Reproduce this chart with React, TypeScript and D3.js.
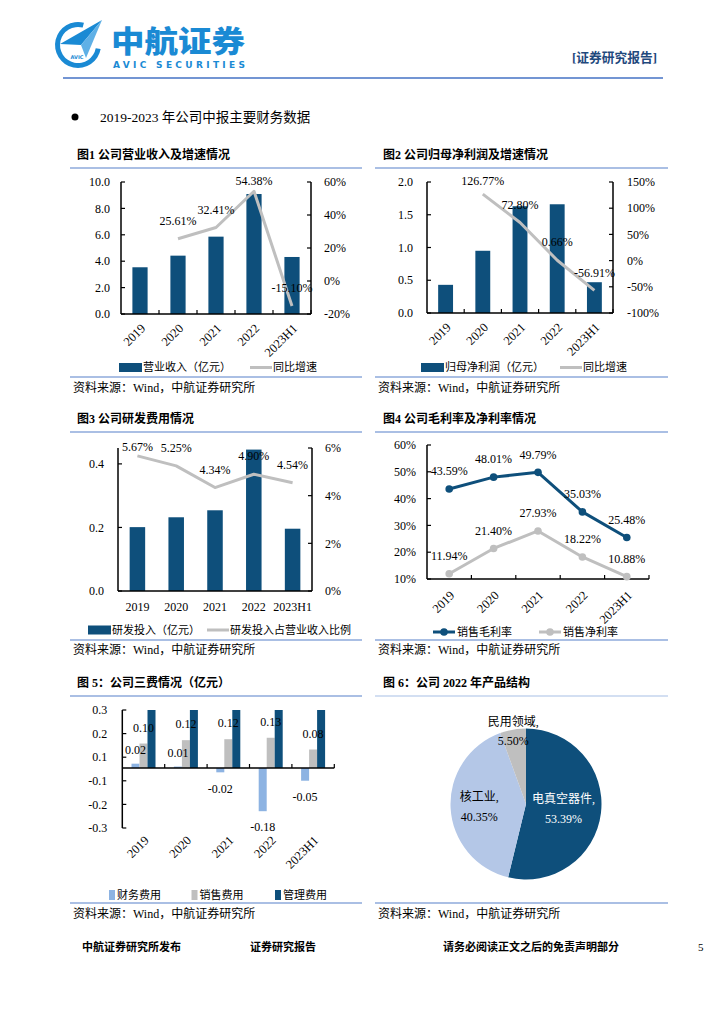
import React from 'react';
import * as d3 from 'd3';

// ---------------- DATA ----------------
const years = ['2019', '2020', '2021', '2022', '2023H1'];

const revenue = [3.54, 4.42, 5.86, 9.09, 4.32];
const revenueGrowth: (number | null)[] = [null, 25.61, 32.41, 54.38, -15.1];
const revenueTicks = [0, 2, 4, 6, 8, 10];
const revenueGrowthTicks = [-20, 0, 20, 40, 60];

const profit = [0.43, 0.95, 1.63, 1.66, 0.47];
const profitGrowth: (number | null)[] = [null, 126.77, 72.8, 0.66, -56.91];
const profitTicks = [0, 0.5, 1, 1.5, 2];
const profitGrowthTicks = [-100, -50, 0, 50, 100, 150];

const rdSpend = [0.201, 0.232, 0.254, 0.445, 0.196];
const rdRatio: (number | null)[] = [5.67, 5.25, 4.34, 4.9, 4.54];
const rdTicks = [0, 0.2, 0.4];
const rdRatioTicks = [0, 2, 4, 6];

const grossMargin = [43.59, 48.01, 49.79, 35.03, 25.48];
const netMargin = [11.94, 21.4, 27.93, 18.22, 10.88];
const marginTicks = [10, 20, 30, 40, 50, 60];

const financeExp = [0.018, 0.006, -0.018, -0.18, -0.053];
const salesExp = [0.102, 0.116, 0.12, 0.126, 0.077];
const adminExp = [0.34, 0.38, 0.45, 0.52, 0.3];
const expTickLabels = ['0.3', '0.2', '0.1', '-0.1', '-0.2', '-0.3'];
const expSeries = ['财务费用', '销售费用', '管理费用'];

const pieNames = ['电真空器件', '核工业', '民用领域'];
const pieValues = [53.39, 40.35, 5.5];

// ---------------- STYLE ----------------
const FONT = "'Liberation Serif','Noto Sans CJK SC',serif";
const DARK = '#0e4f7b';
const GRAY = '#bfbfbf';
const LIGHT = '#8db3e2';
const PIE_LIGHT = '#b4c7e7';
const RULE = '#8eaadb';
const BRAND = '#1a8ad4';

const SOURCE = '资料来源：Wind，中航证券研究所';

function Frame({ x0, x1, tx, titleY, topLine, bottomLine, sourceY, title, ruleColor = RULE }: any) {
  return (
    <g>
      <text x={tx} y={titleY} fontSize={12} fontWeight={700} dy="0.35em">{title}</text>
      <line x1={x0} x2={x1} y1={topLine} y2={topLine} stroke={ruleColor} strokeWidth={1.5} />
      <line x1={x0} x2={x1} y1={bottomLine} y2={bottomLine} stroke={RULE} strokeWidth={1.5} />
      <text x={x0 + 3} y={sourceY} fontSize={12} dy="0.35em">{SOURCE}</text>
    </g>
  );
}

function LeftAxis({ x, y, ticks, fmt, gap, yTop, yBot, positions }: any) {
  return (
    <g>
      <line x1={x} x2={x} y1={yTop} y2={yBot} stroke="#000" strokeWidth={1.5} />
      {ticks.map((t: any, i: number) => {
        const yy = positions ? positions[i] : y(t);
        return (
          <g key={i}>
            <line x1={x} x2={x + 4} y1={yy} y2={yy} stroke="#000" strokeWidth={1.2} />
            <text x={x - gap} y={yy} dy="0.35em" textAnchor="end" fontSize={12}>{fmt(t)}</text>
          </g>
        );
      })}
    </g>
  );
}

function RightAxis({ x, y, ticks, fmt, gap, yTop, yBot }: any) {
  return (
    <g>
      <line x1={x} x2={x} y1={yTop} y2={yBot} stroke="#000" strokeWidth={1.5} />
      {ticks.map((t: number, i: number) => (
        <g key={i}>
          <line x1={x - 4} x2={x} y1={y(t)} y2={y(t)} stroke="#000" strokeWidth={1.2} />
          <text x={x + gap} y={y(t)} dy="0.35em" textAnchor="start" fontSize={12}>{fmt(t)}</text>
        </g>
      ))}
    </g>
  );
}

function XAxis({ x0, x1, y, step, n, ticks = true }: any) {
  return (
    <g>
      <line x1={x0} x2={x1} y1={y} y2={y} stroke="#000" strokeWidth={1.5} />
      {ticks && d3.range(1, n + 1).map((k) => (
        <line key={k} x1={x0 + step * k} x2={x0 + step * k} y1={y} y2={y - 4} stroke="#000" strokeWidth={1.2} />
      ))}
    </g>
  );
}

function XLabels({ centers, y, rotate }: any) {
  return (
    <g>
      {years.map((yr, i) =>
        rotate ? (
          <text key={yr} transform={`translate(${centers[i] + 3},${y}) rotate(-45)`} textAnchor="end" dy="0.35em" fontSize={12.5}>{yr}</text>
        ) : (
          <text key={yr} x={centers[i]} y={y} textAnchor="middle" dy="0.35em" fontSize={12}>{yr}</text>
        )
      )}
    </g>
  );
}

function BarLine(p: any) {
  const { x0, x1, yTop, yBot } = p;
  const xb = d3.scaleBand<string>().domain(years).range([x0, x1]).paddingInner(0.6).paddingOuter(0.3);
  const step = xb.step();
  const centers = years.map((y) => (xb(y) as number) + xb.bandwidth() / 2);
  const yL = d3.scaleLinear().domain(p.lDomain).range([yBot, yTop]);
  const yR = d3.scaleLinear().domain(p.rDomain).range([yBot, yTop]);
  const pts: [number, number][] = [];
  p.line.forEach((v: number | null, i: number) => { if (v != null) pts.push([centers[i], yR(v)]); });
  const path = d3.line()(pts) || '';
  const clipId = p.id + '-clip';
  return (
    <g>
      <clipPath id={clipId}><rect x={x0} y={yTop} width={x1 - x0} height={yBot - yTop} /></clipPath>
      <g clipPath={`url(#${clipId})`}>
        {p.bars.map((v: number, i: number) => (
          <rect key={i} x={xb(years[i])} y={yL(v)} width={xb.bandwidth()} height={yBot - yL(v)} fill={DARK} />
        ))}
      </g>
      <path d={path} fill="none" stroke={GRAY} strokeWidth={3} strokeLinejoin="round" />
      <XAxis x0={x0} x1={x1} y={yBot} step={step} n={5} ticks={p.xTicks} />
      <LeftAxis x={x0} y={yL} ticks={p.lTicks} fmt={p.lFmt} gap={p.lGap} yTop={yTop} yBot={yBot} />
      <RightAxis x={x1} y={yR} ticks={p.rTicks} fmt={p.rFmt} gap={p.rGap} yTop={yTop} yBot={yBot} />
      {p.line.map((v: number | null, i: number) => v == null ? null : (
        <text key={i} x={centers[i]} y={Math.max(yR(v) - 18, yTop - 1)} dy="0.35em" textAnchor="middle" fontSize={12}>{v.toFixed(2)}%</text>
      ))}
      <XLabels centers={centers} y={p.rotate ? yBot + 12 : p.xLabelY} rotate={p.rotate} />
      <rect x={p.legend.barX} y={p.legend.y - 4.5} width={23} height={9} fill={DARK} />
      <text x={p.legend.barX + 24} y={p.legend.y} dy="0.35em" fontSize={11}>{p.legend.barText}</text>
      <line x1={p.legend.lineX} x2={p.legend.lineX + 22} y1={p.legend.y} y2={p.legend.y} stroke={GRAY} strokeWidth={3} />
      <text x={p.legend.lineX + 23} y={p.legend.y} dy="0.35em" fontSize={11}>{p.legend.lineText}</text>
    </g>
  );
}

function Chart4() {
  const x0 = 427, x1 = 649, yTop = 445, yBot = 579;
  const xb = d3.scaleBand<string>().domain(years).range([x0, x1]);
  const centers = years.map((y) => (xb(y) as number) + xb.bandwidth() / 2);
  const y = d3.scaleLinear().domain([10, 60]).range([yBot, yTop]);
  const series = [
    { vals: grossMargin, color: DARK, name: '销售毛利率', lx: 433 },
    { vals: netMargin, color: GRAY, name: '销售净利率', lx: 539 },
  ];
  const gen = d3.line<number>().x((_, i) => centers[i]).y((v) => y(v));
  return (
    <g>
      <XAxis x0={x0} x1={x1} y={yBot} step={xb.step()} n={5} />
      <LeftAxis x={x0} y={y} ticks={marginTicks} fmt={(t: number) => t + '%'} gap={11} yTop={yTop} yBot={yBot} />
      {series.map((s) => (
        <g key={s.name}>
          <path d={gen(s.vals) || ''} fill="none" stroke={s.color} strokeWidth={3} strokeLinejoin="round" />
          {s.vals.map((v, i) => <circle key={i} cx={centers[i]} cy={y(v)} r={3.8} fill={s.color} />)}
          {s.vals.map((v, i) => (
            <text key={'t' + i} x={centers[i]} y={y(v) - 18} dy="0.35em" textAnchor="middle" fontSize={12}>{v.toFixed(2)}%</text>
          ))}
          <line x1={s.lx} x2={s.lx + 22} y1={632} y2={632} stroke={s.color} strokeWidth={3} />
          <circle cx={s.lx + 11} cy={632} r={3.8} fill={s.color} />
          <text x={s.lx + 24} y={632} dy="0.35em" fontSize={11}>{s.name}</text>
        </g>
      ))}
      <XLabels centers={centers} y={yBot + 14} rotate />
    </g>
  );
}

function Chart5() {
  const x0 = 122.3, x1 = 334.3, yTop = 710, yBot = 828;
  const xb = d3.scaleBand<string>().domain(years).range([x0, x1]);
  const inner = d3.scaleBand<string>().domain(expSeries).range([0, 24]);
  const off = (xb.bandwidth() - 24) / 2;
  const y = d3.scaleLinear().domain([-0.25, 0.2417]).range([yBot, yTop]);
  const tickPos = d3.scalePoint<string>().domain(expTickLabels).range([yTop, yBot]);
  const colors = [LIGHT, GRAY, DARK];
  const data = [financeExp, salesExp, adminExp];
  const centers = years.map((yr) => (xb(yr) as number) + xb.bandwidth() / 2);
  const legendX = [109, 191.5, 275];
  return (
    <g>
      <clipPath id="c5clip"><rect x={x0} y={yTop} width={x1 - x0} height={yBot - yTop} /></clipPath>
      <g clipPath="url(#c5clip)">
        {data.map((vals, s) => vals.map((v, i) => {
          const bx = (xb(years[i]) as number) + off + (inner(expSeries[s]) as number);
          return <rect key={s + '-' + i} x={bx} y={Math.min(y(v), y(0))} width={inner.bandwidth()} height={Math.abs(y(v) - y(0))} fill={colors[s]} />;
        }))}
      </g>
      <XAxis x0={x0} x1={x1} y={y(0)} step={xb.step()} n={5} />
      <LeftAxis x={x0} y={y} ticks={expTickLabels} positions={expTickLabels.map((l) => tickPos(l))} fmt={(t: string) => t} gap={15} yTop={yTop} yBot={yBot} />
      {[0, 1].map((s) => data[s].map((v, i) => {
        const bx = (xb(years[i]) as number) + off + (inner(expSeries[s]) as number) + inner.bandwidth() / 2;
        const ly = v >= 0 ? y(v) - (s === 1 ? 16 : 14) : y(v) + 16;
        return <text key={s + 't' + i} x={bx} y={ly} dy="0.35em" textAnchor="middle" fontSize={12}>{v.toFixed(2)}</text>;
      }))}
      <XLabels centers={centers} y={yBot + 10} rotate />
      {expSeries.map((name, s) => (
        <g key={name}>
          <rect x={legendX[s]} y={890} width={6} height={10} fill={colors[s]} />
          <text x={legendX[s] + 8} y={895} dy="0.35em" fontSize={11}>{name}</text>
        </g>
      ))}
    </g>
  );
}

function Chart6() {
  const cx = 526, cy = 804, r = 75.5;
  const pie = d3.pie<number>().sort(null).value((d) => d);
  const arcs = pie(pieValues);
  const arc = d3.arc<d3.PieArcDatum<number>>().innerRadius(0).outerRadius(r);
  const colors = [DARK, PIE_LIGHT, GRAY];
  const textColors = ['#fff', '#000', '#000'];
  const labelR = [0.5, 0.62, 0.98];
  return (
    <g transform={`translate(${cx},${cy})`}>
      {arcs.map((a, i) => <path key={i} d={arc(a) || ''} fill={colors[i]} />)}
      {arcs.map((a, i) => {
        const mid = (a.startAngle + a.endAngle) / 2;
        const lr = r * labelR[i];
        const lx = lr * Math.sin(mid);
        const ly = -lr * Math.cos(mid);
        return (
          <g key={'l' + i} fill={textColors[i]} fontSize={12} textAnchor="middle">
            <text x={lx} y={ly - 9.5} dy="0.35em">{pieNames[i]},</text>
            <text x={lx} y={ly + 10} dy="0.35em">{pieValues[i].toFixed(2)}%</text>
          </g>
        );
      })}
    </g>
  );
}

function Header() {
  const ring = d3.arc()({ innerRadius: 18, outerRadius: 23, startAngle: (100 * Math.PI) / 180, endAngle: (375 * Math.PI) / 180 }) || '';
  return (
    <g>
      <path d={ring} transform="translate(78,45)" fill={BRAND} />
      <polygon points="102,20 60,44 81,45" fill={BRAND} />
      <polygon points="102,20 81,45 86,58" fill="#5fb0e6" />
      <text x={77} y={59} fontSize={5} fontFamily="'DejaVu Sans'" fontWeight={700} fill={BRAND} textAnchor="middle">AVIC</text>
      <text x={111} y={52} fontSize={30} fontWeight={900} fontFamily="'Noto Sans CJK SC'" fill={BRAND} textLength={134} lengthAdjust="spacingAndGlyphs">中航证券</text>
      <text x={113} y={68} fontSize={9} fontWeight={700} fontFamily="'DejaVu Sans'" fill={BRAND} textLength={132} lengthAdjust="spacing">AVIC SECURITIES</text>
      <text x={572} y={62} fontSize={13} fontWeight={700} fill="#1f497d" textLength={85} lengthAdjust="spacingAndGlyphs">[证券研究报告]</text>
      <line x1={63} x2={663} y1={78} y2={78} stroke="#4472c4" strokeWidth={1.5} />
      <circle cx={75} cy={117} r={3.5} fill="#000" />
      <text x={100} y={117} dy="0.35em" fontSize={13.5}>2019-2023 年公司中报主要财务数据</text>
    </g>
  );
}

function Footer() {
  return (
    <g fontSize={11} fontWeight={700}>
      <text x={82} y={947} dy="0.35em">中航证券研究所发布</text>
      <text x={250} y={947} dy="0.35em">证券研究报告</text>
      <text x={443} y={947} dy="0.35em">请务必阅读正文之后的免责声明部分</text>
      <text x={698} y={947} dy="0.35em" fontWeight={400}>5</text>
    </g>
  );
}

export default function App() {
  return (
    <svg width={724} height={1024} style={{ position: 'absolute', left: 0, top: 0, background: '#fff' }} fontFamily={FONT}>
      <rect width={724} height={1024} fill="#fff" />
      <Header />
      {/* Row 1 */}
      <Frame x0={70} x1={362} tx={77} titleY={155} topLine={168} bottomLine={377} sourceY={388} title="图1 公司营业收入及增速情况" />
      <Frame x0={375} x1={668} tx={383} titleY={155} topLine={168} bottomLine={377} sourceY={388} title="图2 公司归母净利润及增速情况" />
      <BarLine id="c1" x0={121} x1={311} yTop={182} yBot={314} bars={revenue} line={revenueGrowth}
        lDomain={[0, 10]} rDomain={[-20, 60]} lTicks={revenueTicks} rTicks={revenueGrowthTicks}
        lFmt={(t: number) => t.toFixed(1)} rFmt={(t: number) => t + '%'} lGap={11} rGap={13} rotate xTicks
        legend={{ y: 367.5, barX: 119, barText: '营业收入（亿元）', lineX: 250, lineText: '同比增速' }} />
      <BarLine id="c2" x0={427} x1={613} yTop={182} yBot={313} bars={profit} line={profitGrowth}
        lDomain={[0, 2]} rDomain={[-100, 150]} lTicks={profitTicks} rTicks={profitGrowthTicks}
        lFmt={(t: number) => t.toFixed(1)} rFmt={(t: number) => t + '%'} lGap={14} rGap={14} rotate xTicks
        legend={{ y: 367.5, barX: 421, barText: '归母净利润（亿元）', lineX: 560, lineText: '同比增速' }} />
      {/* Row 2 */}
      <Frame x0={70} x1={362} tx={77} titleY={419} topLine={432} bottomLine={640} sourceY={649.5} title="图3 公司研发费用情况" />
      <Frame x0={375} x1={668} tx={383} titleY={419} topLine={432} bottomLine={640} sourceY={649.5} title="图4 公司毛利率及净利率情况" />
      <BarLine id="c3" x0={118} x1={312} yTop={448} yBot={591} bars={rdSpend} line={rdRatio}
        lDomain={[0, 0.45]} rDomain={[0, 6]} lTicks={rdTicks} rTicks={rdRatioTicks}
        lFmt={(t: number) => t.toFixed(1)} rFmt={(t: number) => t + '%'} lGap={14} rGap={13} rotate={false} xLabelY={607} xTicks={false}
        legend={{ y: 630, barX: 88, barText: '研发投入（亿元）', lineX: 207, lineText: '研发投入占营业收入比例' }} />
      <Chart4 />
      {/* Row 3 */}
      <Frame x0={70} x1={362} tx={77} titleY={683} topLine={696} bottomLine={903} sourceY={913.5} title="图 5：公司三费情况（亿元）" />
      <Frame x0={375} x1={668} tx={383} titleY={683} topLine={696} bottomLine={903} sourceY={913.5} title="图 6：公司 2022 年产品结构" ruleColor="#c5d5ee" />
      <Chart5 />
      <Chart6 />
      <Footer />
    </svg>
  );
}
